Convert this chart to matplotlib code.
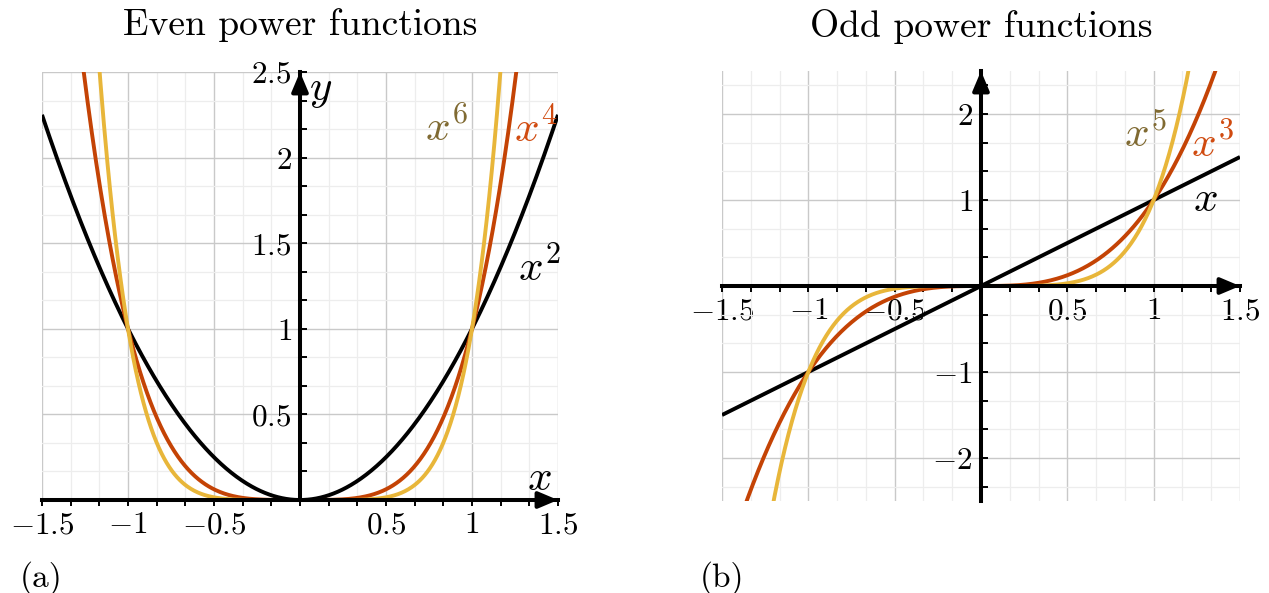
import numpy as np
import matplotlib
matplotlib.use("Agg")
import matplotlib.pyplot as plt
from matplotlib.ticker import MultipleLocator, FixedLocator, FixedFormatter

plt.rcParams['font.family'] = 'serif'
plt.rcParams['font.serif'] = ['cmr10']
plt.rcParams['mathtext.fontset'] = 'cm'
plt.rcParams['axes.unicode_minus'] = False
plt.rcParams['axes.formatter.use_mathtext'] = True

# ---- data ----
even_powers = [2, 4, 6]
odd_powers = [1, 3, 5]
even_labels = [r'$x^2$', r'$x^4$', r'$x^6$']
odd_labels = [r'$x$', r'$x^3$', r'$x^5$']
x_ticks = [-1.5, -1, -0.5, 0, 0.5, 1, 1.5]
x_ticklabels = [r'$-1.5$', r'$-1$', r'$-0.5$', '', r'$0.5$', r'$1$', r'$1.5$']
left_yticks = [0, 0.5, 1, 1.5, 2, 2.5]
left_yticklabels = ['', r'$0.5$', r'$1$', r'$1.5$', r'$2$', r'$2.5$']
right_yticks = [-2, -1, 0, 1, 2]
right_yticklabels = [r'$-2$', r'$-1$', '', r'$1$', r'$2$']

# ---- style ----
C_BLACK = 'black'
C_ORANGE = '#c44305'
C_YELLOW = '#e8b63a'
C_ORANGE_TXT = '#d04b10'
C_YELLOW_TXT = '#806a32'
curve_colors = [C_BLACK, C_ORANGE, C_YELLOW]
label_colors = [C_BLACK, C_ORANGE_TXT, C_YELLOW_TXT]

fig = plt.figure(figsize=(12.69, 5.93), dpi=100)
axL = fig.add_axes([42/1269, (593-500)/593, 516/1269, 428/593])
axR = fig.add_axes([722/1269, (593-501)/593, 518/1269, 430/593])

xs = np.linspace(-1.5, 1.5, 601)
TICK_FS = 22.5


def setup(ax, ylim, yticks, yticklabels, yminor):
    ax.set_xlim(-1.5, 1.5)
    ax.set_ylim(*ylim)
    ax.xaxis.set_major_locator(FixedLocator(x_ticks))
    ax.xaxis.set_major_formatter(FixedFormatter(x_ticklabels))
    ax.xaxis.set_minor_locator(MultipleLocator(0.5/3))
    ax.yaxis.set_major_locator(FixedLocator(yticks))
    ax.yaxis.set_major_formatter(FixedFormatter(yticklabels))
    ax.yaxis.set_minor_locator(MultipleLocator(yminor))
    ax.grid(which='major', color='#c9c9c9', lw=1.0, zorder=0)
    ax.grid(which='minor', color='#ededed', lw=0.9, zorder=0)
    ax.set_axisbelow(True)
    for s in ['top', 'right']:
        ax.spines[s].set_visible(False)
    for s in ['left', 'bottom']:
        ax.spines[s].set_position(('data', 0))
        ax.spines[s].set_linewidth(2.9)
        ax.spines[s].set_zorder(4)
    ax.tick_params(which='both', axis='x', direction='out', length=4, width=1.4,
                   labelsize=TICK_FS, pad=4)
    ax.tick_params(which='both', axis='y', direction='in', length=5, width=1.4,
                   labelsize=TICK_FS, pad=6)


setup(axL, (0, 2.5), left_yticks, left_yticklabels, 0.5/3)
setup(axR, (-2.5, 2.5), right_yticks, right_yticklabels, 1/3)

# curves
for p, c in zip(even_powers, curve_colors):
    axL.plot(xs, xs**p, color=c, lw=2.8, zorder=3, solid_capstyle='butt')
for p, c in zip(odd_powers, curve_colors):
    axR.plot(xs, xs**p, color=c, lw=2.8, zorder=3, solid_capstyle='butt')

# arrows
arrow_kw = dict(arrowstyle='-|>,head_length=0.9,head_width=0.38', color='black', lw=2.9,
                shrinkA=0, shrinkB=0, mutation_scale=13)
for ax in (axL, axR):
    ax.annotate('', xy=(1.5, 0), xytext=(1.4, 0), arrowprops=arrow_kw,
                annotation_clip=False, zorder=5)
    ax.annotate('', xy=(0, 2.5), xytext=(0, 2.4), arrowprops=arrow_kw,
                annotation_clip=False, zorder=5)

# curve labels
fs_lab = 31
axL.text(1.39, 1.36, even_labels[0], color=label_colors[0], fontsize=fs_lab, ha='center', va='center')
axL.text(1.37, 2.17, even_labels[1], color=label_colors[1], fontsize=fs_lab, ha='center', va='center')
axL.text(0.85, 2.17, even_labels[2], color=label_colors[2], fontsize=fs_lab, ha='center', va='center')
axL.text(1.39, 0.12, r'$x$', fontsize=fs_lab, ha='center', va='center')
axL.text(0.12, 2.39, r'$y$', fontsize=fs_lab, ha='center', va='center')

axR.text(1.30, 1.00, odd_labels[0], color=label_colors[0], fontsize=fs_lab, ha='center', va='center')
axR.text(1.34, 1.65, odd_labels[1], color=label_colors[1], fontsize=fs_lab, ha='center', va='center')
axR.text(0.95, 1.76, odd_labels[2], color=label_colors[2], fontsize=fs_lab, ha='center', va='center')

# titles and panel letters
fig.text(300/1269, 1 - 25/593, 'Even power functions', fontsize=27, ha='center', va='center')
fig.text(981/1269, 1 - 27/593, 'Odd power functions', fontsize=27, ha='center', va='center')
fig.text(41/1269, 1 - 578/593, '(a)', fontsize=24, ha='center', va='center')
fig.text(722/1269, 1 - 578/593, '(b)', fontsize=24, ha='center', va='center')

fig.savefig('out.png', dpi=100)
